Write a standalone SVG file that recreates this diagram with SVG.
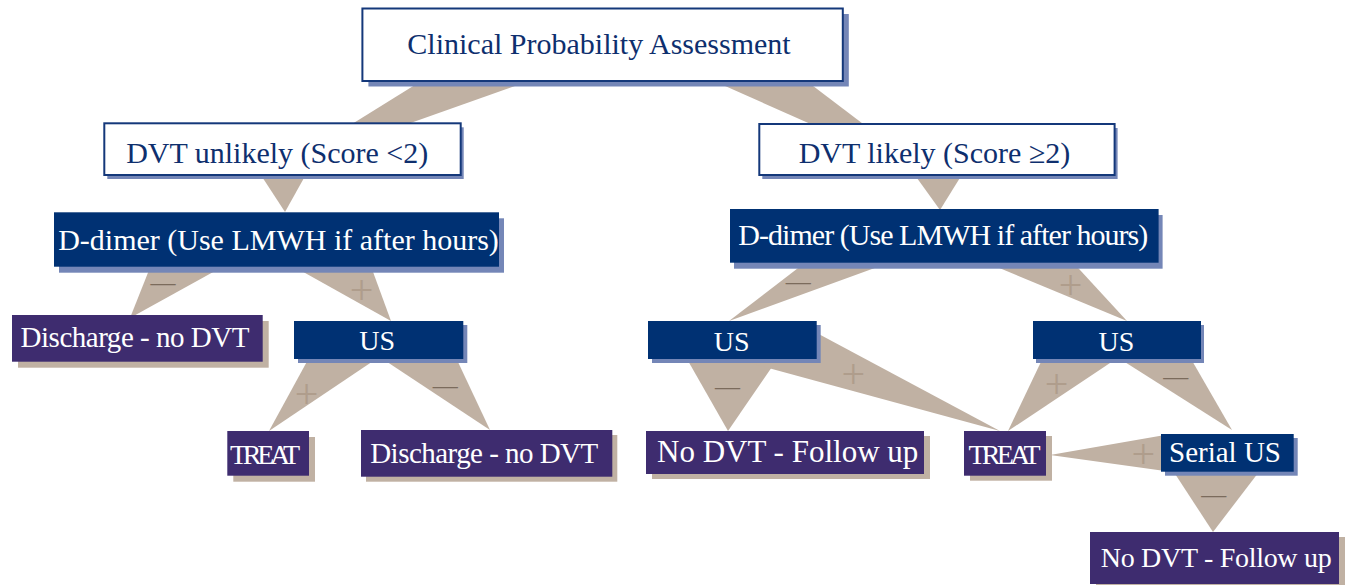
<svg xmlns="http://www.w3.org/2000/svg" width="1362" height="585" viewBox="0 0 1362 585">
<style>
.wedge{fill:#C0B1A3}
.plus{font-family:"Liberation Serif",serif;font-size:42px;fill:#AF9D8C;text-anchor:middle}
.minus{font-family:"Liberation Serif",serif;font-size:25px;fill:#7B6B5C;text-anchor:middle}
.wbox{fill:#FFFFFF;stroke:#14387A;stroke-width:2}
.bbox{fill:#003173}
.pbox{fill:#3E2C6F}
.bsh{fill:#7486B7}
.tsh{fill:#C0B1A3}
.t{font-family:"Liberation Serif","Times New Roman",serif;text-anchor:middle}
.dark{fill:#0E2F6E}
.light{fill:#FFFFFF}
</style>
<rect width="1362" height="585" fill="#FFFFFF"/>
<g id="connectors">
<polygon class="wedge" points="439,70 560,70 278,170"/>
<polygon class="wedge" points="689,70 792,70 937,180"/>
<polygon class="wedge" points="251,160 314,160 285,212"/>
<polygon class="wedge" points="904,160 971,160 940,210"/>
<polygon class="wedge" points="157,250 253,250 130,318"/>
<polygon class="wedge" points="264,250 365,250 391,321"/>
<polygon class="wedge" points="316,345 397,345 269,431"/>
<polygon class="wedge" points="361.5,345 450,345 490,430"/>
<polygon class="wedge" points="828,245 938,245 729,321"/>
<polygon class="wedge" points="944,245 1057,245 1127,321"/>
<polygon class="wedge" points="679,345 787,345 728,431"/>
<polygon class="wedge" points="735,359 800,324 1000,431"/>
<polygon class="wedge" points="1049,345 1137,345 1008,431"/>
<polygon class="wedge" points="1098,345 1183,345 1232,430"/>
<polygon class="wedge" points="1165,435 1165,471 1050,455"/>
<polygon class="wedge" points="1166,460 1268,460 1213,532"/>
<text class="minus" x="163" y="291">—</text>
<text class="plus" x="361.7" y="303.5">+</text>
<text class="plus" x="306.7" y="407.5">+</text>
<text class="minus" x="445.3" y="393.5">—</text>
<text class="minus" x="798.3" y="290">—</text>
<text class="plus" x="1070.7" y="299">+</text>
<text class="minus" x="727.5" y="395">—</text>
<text class="plus" x="853.3" y="387.5">+</text>
<text class="plus" x="1056.7" y="397.5">+</text>
<text class="minus" x="1175.8" y="385">—</text>
<text class="plus" x="1143.3" y="468">+</text>
<text class="minus" x="1213.8" y="503.3">—</text>
</g>
<g id="n-clinical">
<rect class="bsh" x="368.4" y="14" width="480.4" height="72.5"/>
<rect class="wbox" x="362.4" y="8.5" width="480.4" height="72.5"/>
<text class="t dark" x="599" y="54" font-size="30">Clinical Probability Assessment</text>
</g>
<g id="n-unlikely">
<rect class="bsh" x="107.3" y="127.3" width="356.4" height="51.7"/>
<rect class="wbox" x="104.3" y="123.3" width="356.4" height="51.7"/>
<text class="t dark" x="277.2" y="163.3" font-size="30">DVT unlikely (Score &lt;2)</text>
</g>
<g id="n-likely">
<rect class="bsh" x="762.3" y="128" width="355.3" height="51"/>
<rect class="wbox" x="759.3" y="124" width="355.3" height="51"/>
<text class="t dark" x="934.5" y="163.3" font-size="30">DVT likely (Score ≥2)</text>
</g>
<g id="n-ddimer-left">
<rect class="bsh" x="59" y="218.3" width="445" height="54.4"/>
<rect class="bbox" x="54" y="212.3" width="445" height="54.4"/>
<text class="t light" x="278.5" y="250" font-size="30">D-dimer (Use LMWH if after hours)</text>
</g>
<g id="n-ddimer-right">
<rect class="bsh" x="734" y="215" width="428.6" height="53.7"/>
<rect class="bbox" x="730" y="209" width="428.6" height="53.7"/>
<text class="t light" x="943.3" y="245" font-size="30" textLength="410" lengthAdjust="spacing">D-dimer (Use LMWH if after hours)</text>
</g>
<g id="n-discharge-left">
<rect class="tsh" x="18" y="321" width="250.7" height="46.7"/>
<rect class="pbox" x="12" y="315" width="250.7" height="46.7"/>
<text class="t light" x="135" y="346.7" font-size="29" textLength="229" lengthAdjust="spacing">Discharge - no DVT</text>
</g>
<g id="n-us-left">
<rect class="bsh" x="298" y="325" width="169.3" height="38"/>
<rect class="bbox" x="294" y="321" width="169.3" height="38"/>
<text class="t light" x="377.2" y="350" font-size="28">US</text>
</g>
<g id="n-treat-left">
<rect class="tsh" x="233.3" y="437" width="81.7" height="44.7"/>
<rect class="pbox" x="227.3" y="431" width="81.7" height="44.7"/>
<text class="t light" x="265" y="464" font-size="28" textLength="70" lengthAdjust="spacing">TREAT</text>
</g>
<g id="n-discharge-bottom">
<rect class="tsh" x="366" y="435" width="251.3" height="46.7"/>
<rect class="pbox" x="361" y="430" width="251.3" height="46.7"/>
<text class="t light" x="484.2" y="462.7" font-size="29" textLength="228" lengthAdjust="spacing">Discharge - no DVT</text>
</g>
<g id="n-us-mid">
<rect class="bsh" x="652" y="325" width="168.7" height="38"/>
<rect class="bbox" x="648" y="321" width="168.7" height="38"/>
<text class="t light" x="731.7" y="350.7" font-size="28">US</text>
</g>
<g id="n-us-right">
<rect class="bsh" x="1036" y="325" width="168" height="38"/>
<rect class="bbox" x="1033" y="321" width="168" height="38"/>
<text class="t light" x="1116.5" y="350.7" font-size="28">US</text>
</g>
<g id="n-nodvt-mid">
<rect class="tsh" x="652" y="436" width="278" height="43"/>
<rect class="pbox" x="646" y="431" width="278" height="43"/>
<text class="t light" x="787.7" y="461.7" font-size="31">No DVT - Follow up</text>
</g>
<g id="n-treat-right">
<rect class="tsh" x="970" y="436" width="82" height="44.7"/>
<rect class="pbox" x="964" y="431" width="82" height="44.7"/>
<text class="t light" x="1004.5" y="464" font-size="28" textLength="72" lengthAdjust="spacing">TREAT</text>
</g>
<g id="n-serial">
<rect class="bsh" x="1165" y="438" width="132.7" height="37.7"/>
<rect class="bbox" x="1161" y="434" width="132.7" height="37.7"/>
<text class="t light" x="1225" y="462.3" font-size="29">Serial US</text>
</g>
<g id="n-nodvt-bottom">
<rect class="tsh" x="1096" y="537" width="249" height="52"/>
<rect class="pbox" x="1090" y="532" width="249" height="52"/>
<text class="t light" x="1216.2" y="566.7" font-size="28" textLength="231" lengthAdjust="spacing">No DVT - Follow up</text>
</g>
</svg>
